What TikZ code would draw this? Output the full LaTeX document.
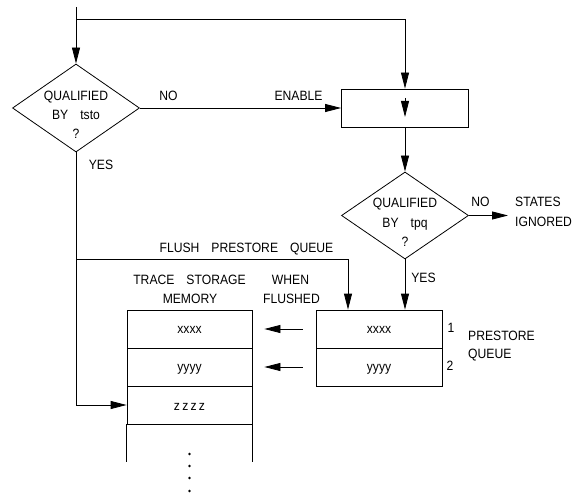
\documentclass[tikz,border=0pt]{standalone}
\usepackage{fontspec}
\setmainfont{Liberation Sans}[FakeStretch=0.9]
\usetikzlibrary{shapes.geometric,arrows.meta}
\newcommand{\wsp}{\hspace{12pt}}
\begin{document}
\begin{tikzpicture}[x=1pt,y=-1pt,
  font=\fontsize{13.5}{16}\selectfont,
  ln/.style={line width=0.8pt},
  arr/.style={line width=0.8pt,-{Triangle[length=16pt,width=8pt]}},
  dec/.style={draw, diamond, line width=0.8pt, minimum width=127pt, minimum height=88pt, inner sep=0pt},
  cell/.style={draw, line width=0.8pt, minimum width=125pt, minimum height=38pt, inner sep=0pt},
  txt/.style={inner sep=0pt, anchor=base},
  txtl/.style={inner sep=0pt, anchor=base west},
  dot/.style={circle, fill, inner sep=0pt, minimum size=2.6pt}]
\useasboundingbox (0,0) rectangle (573,497);

% decision 1
\node[dec] (d1) at (76,108) {};
\node[txt] (d1a) at (76,101) {QUALIFIED};
\node[txt] (d1b) at (76,120) {BY\wsp tsto};
\node[txt] (d1c) at (76,138.5) {?};

% enable box
\node[draw, line width=0.8pt, minimum width=127pt, minimum height=38pt, inner sep=0pt] (en) at (405,108) {};

% decision 2
\node[dec, minimum height=87pt] (d2) at (405,215.5) {};
\node[txt] (d2a) at (405,208) {QUALIFIED};
\node[txt] (d2b) at (405,228) {BY\wsp tpq};
\node[txt] (d2c) at (405,247) {?};

% memory
\node[cell] (m1) at (189.5,329) {};
\node[cell] (m2) at (189.5,367) {};
\node[cell] (m3) at (189.5,405) {};
\node[txt] (m1t) at (189.5,333) {xxxx};
\node[txt] (m2t) at (189.5,371) {yyyy};
\node[txt] (m3t) at (189.5,410) {z\,z\,z\,z};
\draw[ln] (m3.south west) -- ++(0,38);
\draw[ln] (m3.south east) -- ++(0,38);
\node[dot] (k1) at (189.5,454) {};
\node[dot] (k2) at (189.5,466) {};
\node[dot] (k3) at (189.5,478) {};
\node[dot] (k4) at (189.5,491) {};

% prestore queue
\node[cell, minimum width=126pt] (p1) at (379,329) {};
\node[cell, minimum width=126pt] (p2) at (379,367) {};
\node[txt] (p1t) at (379,333) {xxxx};
\node[txt] (p2t) at (379,371) {yyyy};
\node[txt] (n1) at (451,332) {1};
\node[txt] (n2) at (450,370) {2};
\node[txtl] (pq1) at (468,340) {PRESTORE};
\node[txtl] (pq2) at (468,358) {QUEUE};

% labels
\node[txt] (no1) at (168.5,100.5) {NO};
\node[txt] (enl) at (298.5,100.5) {ENABLE};
\node[txt] (yes1) at (101,169.5) {YES};
\node[txt] (no2) at (480.5,207) {NO};
\node[txtl] (st1) at (515,207) {STATES};
\node[txtl] (st2) at (515,227) {IGNORED};
\node[txt] (yes2) at (423.5,283) {YES};
\node[txt] (fl) at (246.5,252) {FLUSH\wsp PRESTORE\wsp QUEUE};
\node[txt] (tr1) at (189.5,284) {TRACE\wsp STORAGE};
\node[txt] (tr2) at (190,303) {MEMORY};
\node[txt] (wh1) at (290.5,284) {WHEN};
\node[txt] (wh2) at (291.5,303) {FLUSHED};

% connectors
\coordinate (top) at (76,7);
\coordinate (tj) at (76,19);
\draw[arr] (top) -- (d1.north);
\draw[arr] (tj) -| (en.north);
\draw[arr] (d1.east) -- (en.west);
\draw[arr] ([yshift=10pt]en.center) -- ([yshift=-9pt]en.center);
\draw[arr] (en.south) -- (d2.north);
\coordinate (si) at (508,215.5);
\draw[arr] (d2.east) -- (si);
\draw[arr] (d2.south) -- (d2.south |- p1.north);
\coordinate (fj) at (76,259);
\coordinate (fk) at (348,259);
\draw[arr] (fj) -- (fk) -- (fk |- p1.north);
\draw[arr] (d1.south) -- (d1.south |- m3.west) -- (m3.west);
\draw[arr] ([xshift=-13pt]p1.west) -- ([xshift=12pt]m1.east);
\draw[arr] ([xshift=-13pt]p2.west) -- ([xshift=12pt]m2.east);
\end{tikzpicture}
\end{document}
